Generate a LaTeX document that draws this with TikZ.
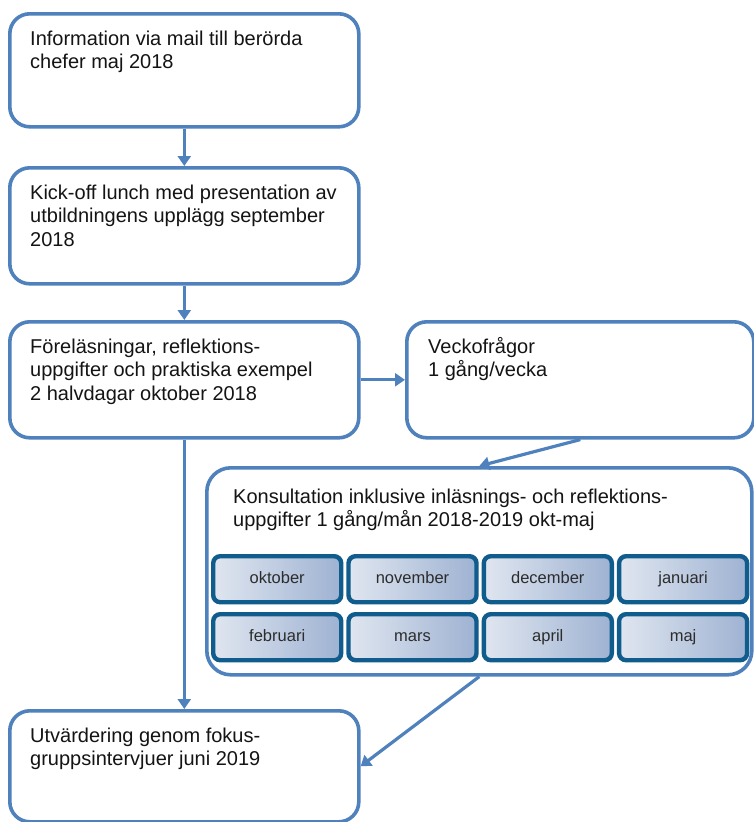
\documentclass[tikz,border=0pt]{standalone}
\usepackage{fontspec}
\setmainfont{Liberation Sans}
\usetikzlibrary{calc,arrows.meta}

\definecolor{ram}{RGB}{79,129,189}
\definecolor{manram}{RGB}{16,92,140}
\definecolor{manljus}{RGB}{224,230,240}
\definecolor{manmork}{RGB}{158,178,210}
\definecolor{skrift}{RGB}{20,20,20}

\begin{document}
\begin{tikzpicture}[x=1pt,y=-1pt,
	ruta/.style={draw=ram, fill=white, line width=3.6pt, rounded corners=20pt, anchor=north west, inner sep=0pt},
	rubrik/.style={anchor=base west, align=left, inner sep=0pt, text=skrift, font=\fontsize{20}{23.5}\selectfont},
	manad/.style={draw=manram, line width=4.4pt, rounded corners=7pt, left color=manljus, right color=manmork, anchor=north west, minimum width=128pt, minimum height=46pt, inner sep=0pt, text height=12pt, text depth=3.5pt, text=skrift!90, font=\fontsize{16.5}{18}\selectfont},
	pil/.style={draw=ram, line width=3.2pt, -{Triangle[length=10pt,width=13pt]}}]

\useasboundingbox (0,0) rectangle (754,822);

% rutor
\node[ruta, minimum width=349pt, minimum height=113pt] (info) at (8,12) {};
\node[ruta, minimum width=349pt, minimum height=116pt] (kick) at (8,166) {};
\node[ruta, minimum width=349pt, minimum height=116pt] (fore) at (8,320) {};
\node[ruta, minimum width=347pt, minimum height=116pt] (vecko) at (405,320) {};
\node[ruta, minimum width=545pt, minimum height=207pt, rounded corners=24pt] (kons) at (205,466) {};
\node[ruta, minimum width=349pt, minimum height=111pt] (utv) at (8,709) {};

% texter (ankrade vid sista radens baslinje)
\node[rubrik] (infotext) at ($(info.north west)+(22,56.5)$) {Information via mail till berörda\\chefer maj 2018};
\node[rubrik] (kicktext) at ($(kick.north west)+(22,80)$) {Kick-off lunch med presentation av\\utbildningens upplägg september\\2018};
\node[rubrik] (foretext) at ($(fore.north west)+(22,80)$) {Föreläsningar, reflektions-\\uppgifter och praktiska exempel\\2 halvdagar oktober 2018};
\node[rubrik] (veckotext) at ($(vecko.north west)+(23,56.5)$) {Veckofrågor\\1 gång/vecka};
\node[rubrik] (konstext) at ($(kons.north west)+(28,60.5)$) {Konsultation inklusive inläsnings- och reflektions-\\uppgifter 1 gång/mån 2018-2019 okt-maj};
\node[rubrik] (utvtext) at ($(utv.north west)+(22,56.5)$) {Utvärdering genom fokus-\\gruppsintervjuer juni 2019};

% månader
\foreach \mon [count=\k from 0] in {oktober,november,december,januari,februari,mars,april,maj}{
	\pgfmathtruncatemacro\kol{mod(\k,4)}
	\pgfmathtruncatemacro\rad{div(\k,4)}
	\node[manad] (\mon) at ({211+135.3*\kol},{554+58*\rad}) {\mon};
}

% pilar
\draw[pil] (info) -- (kick);
\draw[pil] (kick) -- (fore);
\draw[pil] (fore) -- (vecko);
\draw[pil] (fore) -- (utv);
\draw[pil] (vecko.south) -- (kons.north);
\draw[pil] (kons.south) -- (utv.east);

\end{tikzpicture}
\end{document}
